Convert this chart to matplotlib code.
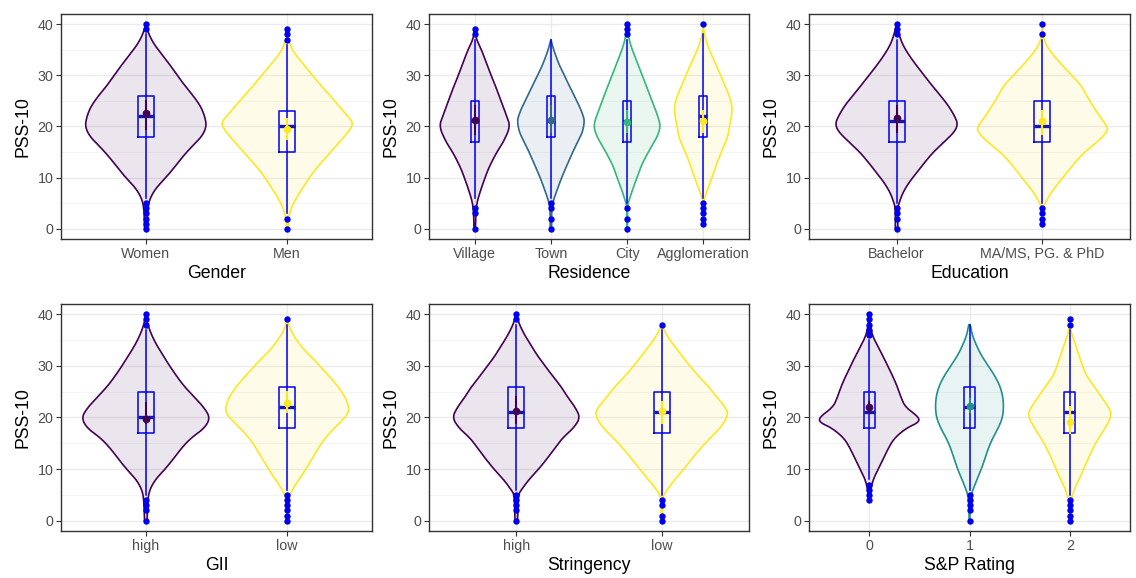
import numpy as np
import matplotlib
matplotlib.use('Agg')
import matplotlib.pyplot as plt

V_PURPLE = '#440154'
V_BLUE = '#31688E'
V_TEAL = '#21908C'
V_GREEN = '#35B779'
V_YELLOW = '#FDE725'
BOXBLUE = '#0000EE'
GRID = '#EBEBEB'

plt.rcParams.update({
    'font.family': ['Liberation Sans', 'DejaVu Sans'],
    'figure.dpi': 100,
})

# ---- data ----
# violin outlines: (score, relative half-width), plus max half-width in category units
gender_cats = ['Women', 'Men']
gender_cols = [V_PURPLE, V_YELLOW]
gender_half = [0.43, 0.46]
gender_dens = [
    [(0, .02), (4, .03), (6, .07), (8, .17), (10, .33), (12, .47), (14, .6), (16, .75), (18, .92), (20, 1.0),
     (22, .97), (24, .9), (26, .78), (28, .64), (30, .52), (32, .4), (34, .27), (36, .14), (38, .05), (40, 0)],
    [(0, .01), (2, .02), (4, .06), (6, .14), (8, .24), (10, .34), (12, .46), (14, .6), (16, .74), (18, .88),
     (20, 1.0), (21, 1.0), (22, .93), (24, .8), (26, .66), (28, .52), (30, .39), (32, .26), (34, .13),
     (36, .04), (38, .01), (39, 0)],
]
gender_box = [(18, 22, 26), (15, 20, 23)]
gender_whisk = [(6, 38), (3, 36)]
gender_out = [[0, 1, 2, 3, 4, 5, 39, 40], [0, 2, 37, 38, 39]]
gender_mean = [22.6, 19.6]
gender_err = [(19.5, 25.0), (17.5, 21.5)]

res_cats = ['Village', 'Town', 'City', 'Agglomeration']
res_cols = [V_PURPLE, V_BLUE, V_GREEN, V_YELLOW]
res_half = [0.467, 0.44, 0.44, 0.38]
res_dens = [
    [(0, .02), (3, .03), (5, .06), (7, .14), (10, .29), (12, .4), (15, .62), (17, .81), (20, 1.0), (22, .9),
     (25, .74), (28, .58), (30, .46), (33, .3), (35, .19), (37, .05), (39, 0)],
    [(0, .02), (3, .02), (5, .05), (7, .15), (10, .32), (12, .45), (15, .65), (17, .8), (19, .95), (21, 1.0),
     (22, .97), (24, .85), (27, .62), (30, .4), (32, .25), (35, .08), (37, 0)],
    [(0, .01), (4, .01), (5, .03), (6, .08), (8, .18), (10, .3), (12, .4), (14, .55), (16, .72), (18, .9),
     (20, 1.0), (22, .92), (24, .8), (27, .63), (30, .45), (33, .27), (36, .1), (38, .03), (40, 0)],
    [(1, .01), (5, .02), (6, .04), (8, .17), (10, .3), (12, .42), (14, .55), (16, .7), (18, .85), (20, .9),
     (22, .98), (24, 1.0), (26, .9), (28, .75), (30, .6), (32, .45), (35, .2), (38, .03), (40, 0)],
]
res_box = [(17, 21, 25), (18, 21, 26), (17, 21, 25), (18, 22, 26)]
res_whisk = [(6, 37), (6, 37), (5, 37), (6, 38)]
res_out = [[0, 3, 4, 38, 39], [0, 2, 4, 5], [0, 2, 4, 38, 39, 40], [1, 2, 3, 4, 5, 40]]
res_mean = [21.2, 21.3, 20.8, 21.0]
res_err = [(18.5, 24.0), (19.0, 24.0), (19.0, 23.0), (19.0, 23.0)]

edu_cats = ['Bachelor', 'MA/MS, PG. & PhD']
edu_cols = [V_PURPLE, V_YELLOW]
edu_half = [0.42, 0.445]
edu_dens = [
    [(0, .02), (4, .02), (5, .04), (7, .1), (9, .2), (11, .33), (13, .46), (15, .6), (17, .78), (19, .95),
     (20.5, 1.0), (22, .95), (24, .85), (26, .72), (28, .58), (30, .45), (32, .32), (34, .2), (36, .1),
     (38, .04), (40, 0)],
    [(1, .01), (4, .01), (5, .04), (7, .13), (9, .25), (11, .38), (13, .5), (15, .65), (17, .85), (19, 1.0),
     (20, 1.0), (22, .88), (24, .78), (26, .68), (28, .6), (30, .45), (32, .3), (35, .1), (37, .02), (40, 0)],
]
edu_box = [(17, 21, 25), (17, 20, 25)]
edu_whisk = [(5, 37), (5, 37)]
edu_out = [[0, 2, 3, 4, 38, 39, 40], [1, 2, 3, 4, 38, 40]]
edu_mean = [21.6, 21.0]
edu_err = [(19.0, 24.0), (18.5, 23.0)]

gii_cats = ['high', 'low']
gii_cols = [V_PURPLE, V_YELLOW]
gii_half = [0.455, 0.44]
gii_dens = [
    [(0, .02), (4, .03), (6, .06), (8, .15), (10, .3), (12, .43), (14, .55), (16, .7), (18, .92), (20, 1.0),
     (22, .9), (24, .75), (26, .6), (28, .48), (30, .37), (32, .27), (34, .17), (36, .09), (38, .03), (40, 0)],
    [(0, .01), (4, .01), (5, .04), (7, .13), (9, .25), (11, .35), (13, .45), (15, .55), (17, .68), (19, .85),
     (21, 1.0), (23, .97), (25, .88), (27, .75), (29, .6), (31, .45), (33, .28), (35, .15), (37, .05), (39, 0)],
]
gii_box = [(17, 20, 25), (18, 22, 26)]
gii_whisk = [(5, 37), (6, 38)]
gii_out = [[0, 2, 3, 4, 38, 39, 40], [0, 1, 2, 3, 4, 5, 39]]
gii_mean = [19.7, 22.8]
gii_err = [(19.0, 22.8), (21.0, 25.0)]

str_cats = ['high', 'low']
str_cols = [V_PURPLE, V_YELLOW]
str_half = [0.44, 0.46]
str_dens = [
    [(0, .02), (5, .03), (6, .08), (8, .2), (10, .35), (12, .48), (14, .6), (16, .72), (18, .9), (20, 1.0),
     (22, .92), (24, .8), (26, .7), (28, .57), (30, .45), (32, .33), (34, .23), (36, .13), (38, .05), (40, 0)],
    [(0, .01), (4, .01), (5, .03), (6, .08), (8, .2), (10, .33), (12, .45), (14, .58), (16, .72), (18, .88),
     (20.5, 1.0), (22, .95), (24, .82), (26, .7), (28, .55), (30, .42), (32, .3), (34, .18), (36, .07), (38, 0)],
]
str_box = [(18, 21, 26), (17, 21, 25)]
str_whisk = [(6, 38), (5, 37)]
str_out = [[0, 2, 3, 4, 5, 39, 40], [0, 1, 3, 4, 38]]
str_mean = [21.2, 21.2]
str_err = [(19.0, 24.0), (19.0, 23.0)]

sp_cats = ['0', '1', '2']
sp_cols = [V_PURPLE, V_TEAL, V_YELLOW]
sp_half = [0.5, 0.34, 0.42]
sp_dens = [
    [(4, .01), (6, .03), (8, .08), (10, .18), (12, .28), (14, .38), (16, .5), (18, .75), (19, .98), (20, 1.0),
     (22, .72), (24, .63), (26, .56), (28, .47), (30, .37), (32, .27), (34, .16), (36, .06), (38, .02), (40, 0)],
    [(0, .01), (3, .02), (5, .05), (6, .1), (8, .22), (10, .35), (12, .45), (14, .55), (16, .68), (18, .85),
     (20, .97), (22, 1.0), (24, .98), (26, .9), (28, .75), (30, .55), (32, .35), (34, .2), (36, .08), (38, .02)],
    [(0, .01), (3, .01), (4, .03), (6, .1), (8, .22), (10, .33), (12, .43), (14, .55), (16, .68), (18, .85),
     (20.5, 1.0), (22, .92), (24, .75), (26, .58), (28, .4), (30, .3), (32, .22), (34, .14), (36, .05), (38, 0)],
]
sp_box = [(18, 21, 25), (18, 22, 26), (17, 21, 25)]
sp_whisk = [(8, 35), (6, 38), (5, 37)]
sp_out = [[4, 5, 6, 7, 36, 37, 38, 39, 40], [0, 2, 3, 4, 5], [0, 1, 2, 3, 4, 38, 39]]
sp_mean = [22.1, 22.3, 19.1]
sp_err = [(21.0, 23.0), (21.0, 23.5), (17.0, 22.0)]


def chaikin(pts, n=3):
    # corner cutting to smooth the outline, endpoints kept
    for _ in range(n):
        new = [pts[0]]
        for p, q in zip(pts[:-1], pts[1:]):
            new.append(0.75 * p + 0.25 * q)
            new.append(0.25 * p + 0.75 * q)
        new.append(pts[-1])
        pts = np.array(new)
    return pts


def panel(ax, cats, cols, dens, half, box, whisk, out, mean, err, xlabel):
    n = len(cats)
    for i in range(n):
        x0 = i + 1
        d = np.array(dens[i], dtype=float)
        pts = chaikin(np.column_stack([d[:, 1] * half[i], d[:, 0]]))
        xs = np.concatenate([x0 + pts[:, 0], (x0 - pts[:, 0])[::-1]])
        ys = np.concatenate([pts[:, 1], pts[::-1, 1]])
        ax.fill(xs, ys, facecolor=cols[i], alpha=0.1, edgecolor='none', zorder=2)
        ax.plot(np.append(xs, xs[0]), np.append(ys, ys[0]), color=cols[i], lw=1.2, zorder=3)
        # whisker line
        ax.plot([x0, x0], whisk[i], color=BOXBLUE, lw=1.1, zorder=4)
        q1, med, q3 = box[i]
        bw = 0.055
        ax.plot([x0 - bw, x0 + bw, x0 + bw, x0 - bw, x0 - bw], [q1, q1, q3, q3, q1],
                color=BOXBLUE, lw=1.1, zorder=4)
        ax.plot([x0 - bw, x0 + bw], [med, med], color='#1515B0', lw=2.4, zorder=5,
                solid_capstyle='butt')
        ax.plot([x0] * len(out[i]), out[i], 'o', color=BOXBLUE, ms=4.6, mec='none', zorder=5)
        ax.plot([x0, x0], err[i], color=cols[i], lw=1.5, zorder=6)
        ax.plot([x0], [mean[i]], 'o', color=cols[i], ms=5.5, mec='none', zorder=6)
    ax.set_xlim(0.4, n + 0.6)
    ax.set_ylim(-2, 42)
    ax.set_xticks(range(1, n + 1))
    ax.set_xticklabels(cats)
    ax.set_yticks([0, 10, 20, 30, 40])
    ax.set_yticks([5, 15, 25, 35], minor=True)
    ax.grid(True, which='major', color=GRID, lw=1.0, zorder=0)
    ax.grid(True, which='minor', axis='y', color='#F3F3F3', lw=0.6, zorder=0)
    ax.set_axisbelow(True)
    ax.tick_params(which='major', length=3.5, color='#333333', labelsize=10.3, labelcolor='#4D4D4D', pad=2)
    ax.tick_params(which='minor', length=0)
    for s in ax.spines.values():
        s.set_color('#333333')
        s.set_linewidth(1.0)
    ax.set_xlabel(xlabel, fontsize=12.7, labelpad=3)
    ax.set_ylabel('PSS-10', fontsize=12.7, labelpad=4)


fig = plt.figure(figsize=(11.36, 5.78))
W, H = 1136, 578
cols_px = [(61, 372), (429, 749), (809, 1130)]
rows_px = [(14, 239), (304, 531)]


def make_ax(r, c):
    (l, rr), (t, b) = cols_px[c], rows_px[r]
    return fig.add_axes([l / W, 1 - b / H, (rr - l) / W, (b - t) / H])


panel(make_ax(0, 0), gender_cats, gender_cols, gender_dens, gender_half, gender_box, gender_whisk,
      gender_out, gender_mean, gender_err, 'Gender')
panel(make_ax(0, 1), res_cats, res_cols, res_dens, res_half, res_box, res_whisk,
      res_out, res_mean, res_err, 'Residence')
panel(make_ax(0, 2), edu_cats, edu_cols, edu_dens, edu_half, edu_box, edu_whisk,
      edu_out, edu_mean, edu_err, 'Education')
panel(make_ax(1, 0), gii_cats, gii_cols, gii_dens, gii_half, gii_box, gii_whisk,
      gii_out, gii_mean, gii_err, 'GII')
panel(make_ax(1, 1), str_cats, str_cols, str_dens, str_half, str_box, str_whisk,
      str_out, str_mean, str_err, 'Stringency')
panel(make_ax(1, 2), sp_cats, sp_cols, sp_dens, sp_half, sp_box, sp_whisk,
      sp_out, sp_mean, sp_err, 'S&P Rating')

fig.savefig('out.png', dpi=100, facecolor='white')
